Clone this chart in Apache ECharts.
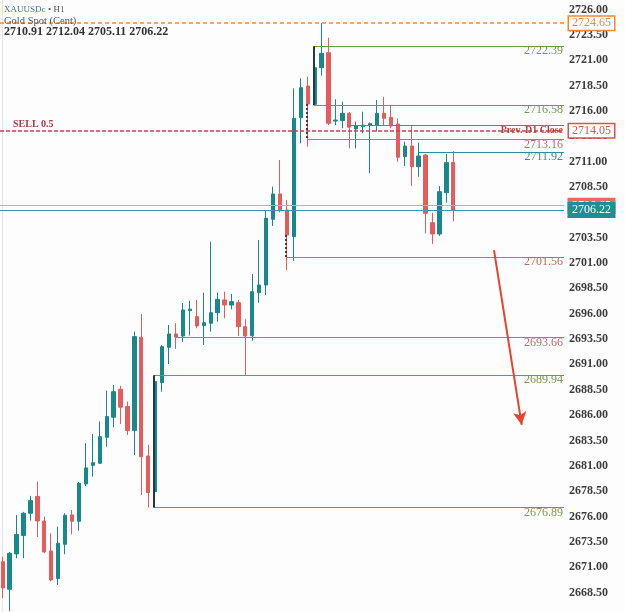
<!DOCTYPE html>
<html><head><meta charset="utf-8">
<script src="https://cdn.jsdelivr.net/npm/echarts@6/dist/echarts.min.js"></script>
<style>html,body{margin:0;padding:0;background:#fdfdfd}#c{width:625px;height:612px}</style>
</head><body><div id="c"></div>
<script>
// ---- data ----
const opens  = [2671.54,2668.82,2672.31,2674.13,2676.32,2677.98,2675.56,2672.60,2669.89,2673.26,2676.15,2675.53,2679.21,2681.04,2681.25,2683.81,2685.79,2688.55,2686.84,2684.47,2693.68,2681.97,2678.45,2689.20,2692.69,2694.00,2693.80,2696.30,2695.71,2694.82,2695.06,2696.10,2697.36,2696.86,2697.09,2694.72,2693.83,2698.07,2698.83,2705.31,2707.81,2706.23,2703.60,2715.33,2718.46,2716.65,2720.26,2721.74,2715.00,2715.04,2715.77,2714.22,2714.45,2714.60,2714.61,2715.77,2715.37,2714.71,2711.49,2712.54,2710.50,2711.65,2704.98,2703.86,2707.94,2710.91];
const closes = [2668.95,2672.37,2674.23,2676.32,2677.56,2675.56,2672.50,2669.74,2673.36,2676.12,2675.53,2679.28,2680.79,2681.31,2683.87,2685.85,2688.31,2686.78,2684.47,2693.74,2681.90,2678.35,2689.30,2692.75,2694.00,2693.70,2696.37,2696.45,2694.79,2695.12,2696.10,2697.42,2696.86,2697.19,2694.72,2693.80,2698.17,2698.83,2705.41,2707.81,2706.16,2703.76,2715.27,2718.29,2716.68,2720.26,2721.68,2714.78,2715.10,2715.77,2714.39,2714.51,2714.60,2714.75,2715.77,2715.27,2714.51,2711.43,2712.54,2710.50,2711.56,2705.90,2703.86,2708.03,2710.90,2706.22];
const lows   = [2667.96,2666.68,2671.88,2671.88,2675.59,2673.98,2672.40,2669.60,2669.25,2672.28,2674.23,2674.60,2679.01,2679.93,2681.20,2682.89,2684.80,2685.13,2684.04,2682.07,2678.12,2676.89,2677.40,2688.31,2691.04,2692.52,2693.24,2693.85,2694.57,2692.92,2694.23,2695.21,2695.55,2696.44,2693.80,2689.96,2693.34,2697.09,2697.85,2704.65,2706.00,2700.31,2701.20,2712.81,2712.47,2716.58,2719.47,2714.61,2714.61,2714.29,2712.31,2712.31,2713.79,2709.85,2713.95,2714.61,2714.29,2710.99,2710.57,2708.60,2709.51,2703.93,2702.88,2703.67,2706.95,2705.11];
const highs  = [2672.04,2672.50,2676.15,2676.45,2678.03,2679.44,2675.99,2674.33,2675.00,2676.32,2676.64,2679.40,2683.22,2684.14,2685.37,2688.41,2688.97,2688.90,2687.33,2694.23,2695.97,2683.06,2689.94,2692.90,2694.89,2695.06,2697.06,2697.26,2697.36,2698.07,2703.10,2698.07,2698.17,2697.95,2697.36,2695.45,2699.92,2703.27,2706.23,2708.53,2711.16,2707.22,2718.23,2719.22,2719.38,2722.39,2724.65,2723.22,2717.15,2716.91,2715.90,2714.94,2715.92,2714.85,2717.08,2717.40,2716.49,2715.27,2712.97,2714.51,2712.87,2711.75,2705.96,2708.60,2711.75,2712.04];

const yTickLabels = [2668.5,2671,2673.5,2676,2678.5,2681,2683.5,2686,2688.5,2691,2693.5,2696,2698.5,2701,2703.5,2706,2708.5,2711,2713.5,2716,2718.5,2721,2723.5,2726];

const levelValues  = [2722.39,2716.58,2713.16,2711.92,2701.56,2693.66,2689.94,2676.89];
const levelAnchors = [44.86,44.86,43.9,60,40.9,24.96,21.8,21.8];   // candle index where each level starts
const levelKinds   = ['g','g','r','t','r','r','g','g'];

const topHigh   = 2724.65;
const sellPrice = 2714.05;
const prevClose = 2714.61;
const prevCloseAnchor = 49.96;
const askPrice  = 2706.65;
const bidPrice  = 2706.22;
const boxLinks  = [[44.86,2716.58,2722.39],[21.8,2676.89,2689.94]];   // solid connectors [index, from, to]
const dotLinks  = [[43.9,2716.68,2713.16],[40.9,2703.76,2701.56]];
const arrowFrom = [70.87, 2702.28];
const arrowTo   = [74.87, 2685.03];

const symbolName = 'XAUUSDc';
const timeframe  = '• H1';
const description = 'Gold Spot (Cent)';
const lastOHLC = ['2710.91','2712.04','2705.11','2706.22'];

// ---- styles ----
const FONT = 'Liberation Serif';
const TEAL = '#17898b', RED = '#e65b5b';
const HIDDEN = {color:'rgba(0,0,0,0)', width:0};
const kindStyle = {
  g: {line:'#6f9c3c', text:'#79994c'},
  r: {line:'#d9685f', text:'#c26a62'},
  t: {line:'#2f8c9a', text:'#3e8b97'}
};
const X_MIN = -0.39, X_MAX = 80.97;

const candleData = opens.map((o,i)=>[i, o, closes[i], lows[i], highs[i]]);

const levelLines = levelValues.map((v,i)=>{
  const k = kindStyle[levelKinds[i]];
  return [
    {coord:[levelAnchors[i], v], lineStyle:{color:k.line, width:1, type:'solid'},
     label:{show:true, position:'insideEndBottom', distance:[1,-1], formatter:()=>v.toFixed(2),
            color:k.text, fontFamily:FONT, fontSize:12}},
    {coord:[X_MAX, v]}
  ];
});

const boxLabel = (color, bg, txt) => ({show:true, position:'end', distance:[5,0],
  formatter:p=>p.value.toFixed(2), color:txt, backgroundColor:bg, borderColor:color, borderWidth:1.5,
  padding:[1,3,0,3], fontFamily:FONT, fontSize:12, lineHeight:12});

const lineMarks = [
  ...levelLines,
  [{coord:[prevCloseAnchor, prevClose], lineStyle:{color:'#d9534f', width:1, type:'solid'}, label:{show:false}}, {coord:[X_MAX, prevClose]}],
  {yAxis: askPrice, lineStyle:{color:'#eaa394', width:1, type:'solid'}, label: boxLabel('#e86a5c','#e86a5c','#fff')},
  {yAxis: bidPrice, lineStyle:{color:'#3b9aa2', width:1, type:'solid'}, label: boxLabel('#1b9196','#1b9196','#fff')},
  {yAxis: topHigh, lineStyle:{color:'#f0883a', width:1.5, type:[4,3]}, label: boxLabel('#f0883a','#ffffff','#f0883a')},
  {yAxis: sellPrice, lineStyle:{color:'#c8404f', width:1.5, type:[4,2]},
   label:{show:true, position:'insideStartTop', distance:[13,1], formatter:'SELL 0.5', color:'#a53c4b',
          fontFamily:FONT, fontSize:10, fontWeight:'bold'}},
  {yAxis: sellPrice, lineStyle:HIDDEN, label: boxLabel('#d9534f','#ffffff','#d9534f')},
  {yAxis: sellPrice, lineStyle:HIDDEN,
   label:{show:true, position:'insideEnd', distance:[1,0], formatter:'Prev. D1 Close', color:'#b5473a',
          fontFamily:FONT, fontSize:10, fontWeight:'bold'}}
];

const connMarks = [
  ...boxLinks.map(b=>[{coord:[b[0], b[1]], lineStyle:{color:'#1f3b3b', width:2, type:'solid'}},{coord:[b[0], b[2]]}]),
  ...dotLinks.map(b=>[{coord:[b[0], b[1]], lineStyle:{color:'#5a2f33', width:2, type:[2,2]}},{coord:[b[0], b[2]]}]),
  [{coord:arrowFrom, lineStyle:{color:'#e8432f', width:2, type:'solid'}, symbol:'none'},
   {coord:arrowTo, symbol:'arrow', symbolSize:[10,13], itemStyle:{color:'#e8432f'}}]
];

const chart = echarts.init(document.getElementById('c'), null, {renderer:'canvas'});
chart.setOption({
  backgroundColor:'#fdfdfd',
  animation:false,
  grid:{left:0, top:0, width:564, bottom:0, containLabel:false, outerBoundsMode:'none'},
  xAxis:{type:'value', min:X_MIN, max:X_MAX, show:false},
  yAxis:{type:'value', position:'right', min:2666.58, max:2726.94,
    splitLine:{show:false}, axisTick:{show:false},
    axisLine:{show:true, lineStyle:{color:'#e4e4e4', width:1}},
    axisLabel:{customValues:yTickLabels, formatter:v=>v.toFixed(2), margin:5, fontFamily:FONT,
      fontSize:12, fontWeight:'bold', color:'#3d3d3d', showMinLabel:true, showMaxLabel:true}},
  graphic:[
    {type:'text', x:4, y:10, style:{text:symbolName, fill:'#3f72c6', font:'9px "Liberation Serif"', verticalAlign:'middle'}},
    {type:'text', x:48, y:10, style:{text:timeframe, fill:'#555', font:'9px "Liberation Serif"', verticalAlign:'middle'}},
    {type:'text', x:4, y:21, z:10, style:{text:description, fill:'#555', font:'10.5px "Liberation Serif"', verticalAlign:'middle'}},
    {type:'text', x:4, y:32, style:{text:lastOHLC.join(' '), fill:'#333', font:'bold 12px "Liberation Serif"', verticalAlign:'middle'}}
  ],
  series:[
    {type:'line', data:[], z:1, clip:false, silent:true,
     markLine:{silent:true, symbol:['none','none'], animation:false, data:lineMarks}},
    {type:'candlestick', data:candleData, z:2, barWidth:3.8,
     itemStyle:{color:TEAL, color0:RED, borderColor:TEAL, borderColor0:RED, borderWidth:1}},
    {type:'line', data:[], z:3, clip:false, silent:true,
     markLine:{silent:true, symbol:['none','none'], animation:false, data:connMarks}}
  ]
});
</script></body></html>
